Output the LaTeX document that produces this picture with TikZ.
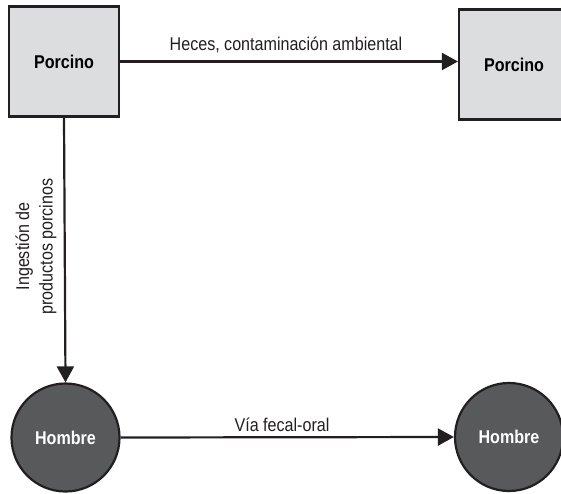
\documentclass[tikz,border=0pt]{standalone}
\usepackage{fontspec}
\setmainfont{Liberation Sans}
\newfontfamily\diagfont[FakeStretch=0.87]{Liberation Sans}
\usetikzlibrary{arrows.meta}
\definecolor{inkline}{HTML}{231F20}
\definecolor{hostlight}{HTML}{DCDDDE}
\definecolor{hostdark}{HTML}{58595B}
\tikzset{
  pigbox/.style={draw=inkline, line width=2.2pt, fill=hostlight, minimum width=110pt,
    minimum height=110pt, inner sep=0pt, font=\diagfont\fontsize{18.5}{22}\selectfont\bfseries},
  humandisc/.style={circle, draw=inkline, line width=2.2pt, fill=hostdark, minimum size=108pt,
    inner sep=0pt, text=white, font=\diagfont\fontsize{18.5}{22}\selectfont\bfseries},
  route/.style={draw=inkline, line width=2.2pt, -{Triangle[length=16pt, width=17pt]}},
  routelabel/.style={font=\diagfont\fontsize{18.5}{22}\selectfont, text=inkline, inner sep=0pt}
}
\begin{document}
\begin{tikzpicture}[x=1pt, y=1pt]
  \useasboundingbox (0,0) rectangle (561,493);
  \clip (0,0) rectangle (561,493);
  \fill[white] (0,0) rectangle (561,493);

  % hosts
  \node[pigbox] (pigA) at (64,431.5) {Porcino};
  \node[pigbox] (pigB) at (514,428.5) {Porcino};
  \node[humandisc] (manA) at (65.5,55.5) {Hombre};
  \node[humandisc] (manB) at (509,56) {Hombre};

  % transmission routes
  \draw[route] (pigA.east) -- (pigA.east -| pigB.west);
  \draw[route] (pigA.south) -- (manA.north);
  \draw[route] (manA.east) -- (manB.west);

  % route labels
  \node[routelabel] (lblfeces) at (286,448) {Heces, contaminación ambiental};
  \node[routelabel] (lbloral) at (282,68) {Vía fecal-oral};
  \node[routelabel, rotate=90, align=center, font=\diagfont\fontsize{18.5}{23.5}\selectfont]
    (lblingest) at (36,246.5) {Ingestión de\\productos porcinos};
\end{tikzpicture}
\end{document}
